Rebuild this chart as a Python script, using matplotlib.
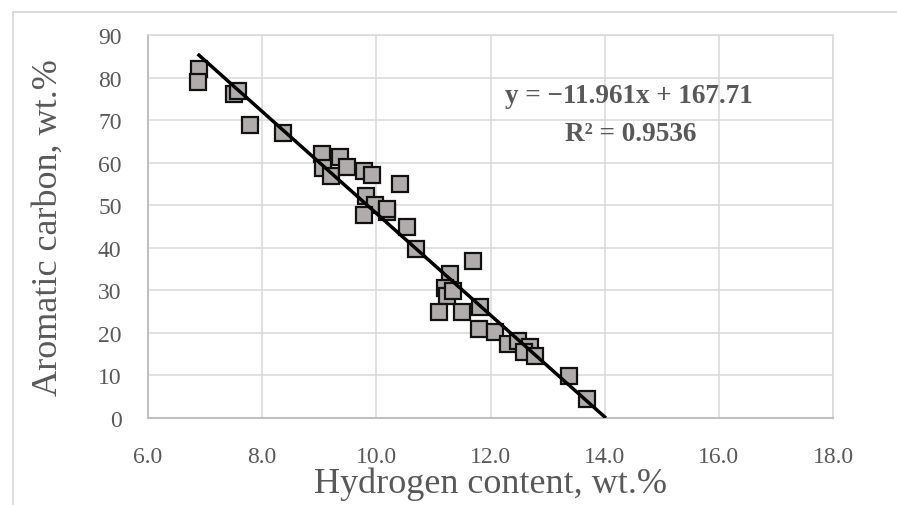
import matplotlib
matplotlib.use("Agg")
import matplotlib.pyplot as plt
from matplotlib.lines import Line2D
import numpy as np

# Hydrogen content (wt.%) and aromatic carbon (wt.%) per sample
hydrogen = [6.90, 6.87, 7.51, 7.57, 7.79, 8.36, 9.04, 9.07, 9.21, 9.36,
            9.48, 9.79, 9.92, 10.42, 9.82, 9.97, 9.79, 10.18, 10.19, 10.53,
            10.69, 11.70, 11.29, 11.20, 11.23, 11.35, 11.09, 11.50, 11.81, 11.79,
            12.08, 12.30, 12.49, 12.69, 12.59, 12.78, 13.38, 13.69]
aromatic = [82.0, 79.0, 76.1, 76.9, 68.9, 67.0, 62.0, 58.7, 56.9, 61.3,
            59.0, 58.1, 57.1, 55.0, 52.2, 50.1, 47.8, 48.3, 49.1, 45.0,
            39.7, 37.0, 33.8, 30.5, 28.7, 29.9, 24.9, 24.8, 26.0, 20.9,
            20.1, 17.4, 18.2, 16.6, 15.4, 14.5, 9.9, 4.5]

# Linear trend line coefficients
slope = -11.961
intercept = 167.71
r_squared = 0.9536

x_ticks = [6.0, 8.0, 10.0, 12.0, 14.0, 16.0, 18.0]
y_ticks = [0, 10, 20, 30, 40, 50, 60, 70, 80, 90]

serif = ["Liberation Serif", "DejaVu Serif"]
text_grey = "#595959"

fig = plt.figure(figsize=(8.97, 5.06), dpi=100)
ax = fig.add_axes([148 / 897, 1 - 419 / 506, (833 - 148) / 897, (419 - 36) / 506])

ax.set_xlim(6, 18)
ax.set_ylim(0, 90)
ax.set_xticks(x_ticks)
ax.set_yticks(y_ticks)
ax.set_xticklabels([f"{t:.1f}" for t in x_ticks], family=serif, fontsize=17, color=text_grey)
ax.set_yticklabels([str(t) for t in y_ticks], family=serif, fontsize=17, color=text_grey)
ax.tick_params(axis="both", length=0)
ax.tick_params(axis="x", pad=20)
ax.tick_params(axis="y", pad=19)

ax.grid(True, color="#d9d9d9", linewidth=1.1)
ax.set_axisbelow(True)
for side in ["top", "right"]:
    ax.spines[side].set_color("#d9d9d9")
    ax.spines[side].set_linewidth(1.1)
for side in ["left", "bottom"]:
    ax.spines[side].set_color("#bfbfbf")
    ax.spines[side].set_linewidth(1.5)

ax.plot(hydrogen, aromatic, linestyle="none", marker="s", markersize=11.5,
        markerfacecolor="#b0acac", markeredgecolor="#111111", markeredgewidth=1.6,
        zorder=3)

# Trend line from the smallest hydrogen value to where it meets y = 0
x_line = np.array([min(hydrogen), -intercept / slope])
ax.plot(x_line, slope * x_line + intercept, color="black", linewidth=2.5,
        solid_capstyle="butt", zorder=4, clip_on=True)

ax.text(0.702, 0.843, "y = \u221211.961x + 167.71", transform=ax.transAxes,
        ha="center", va="center", family=serif, fontsize=19.5, fontweight="bold",
        color=text_grey, zorder=5)
ax.text(0.704, 0.744, f"R\u00b2 = {r_squared:.4f}", transform=ax.transAxes,
        ha="center", va="center", family=serif, fontsize=19.5, fontweight="bold",
        color=text_grey, zorder=5)

ax.set_xlabel("Hydrogen content, wt.%", family=serif, fontsize=26, color=text_grey,
              labelpad=0)
ax.set_ylabel("Aromatic carbon, wt.%", family=serif, fontsize=26, color=text_grey,
              labelpad=24)

# Light outer chart frame
frame_color = "#d9d9d9"
fig.add_artist(Line2D([13 / 897, 1.0], [1 - 13 / 506, 1 - 13 / 506],
                      transform=fig.transFigure, color=frame_color, linewidth=1.3))
fig.add_artist(Line2D([13 / 897, 13 / 897], [0.0, 1 - 13 / 506],
                      transform=fig.transFigure, color=frame_color, linewidth=1.3))

fig.savefig("out.png", dpi=100)
